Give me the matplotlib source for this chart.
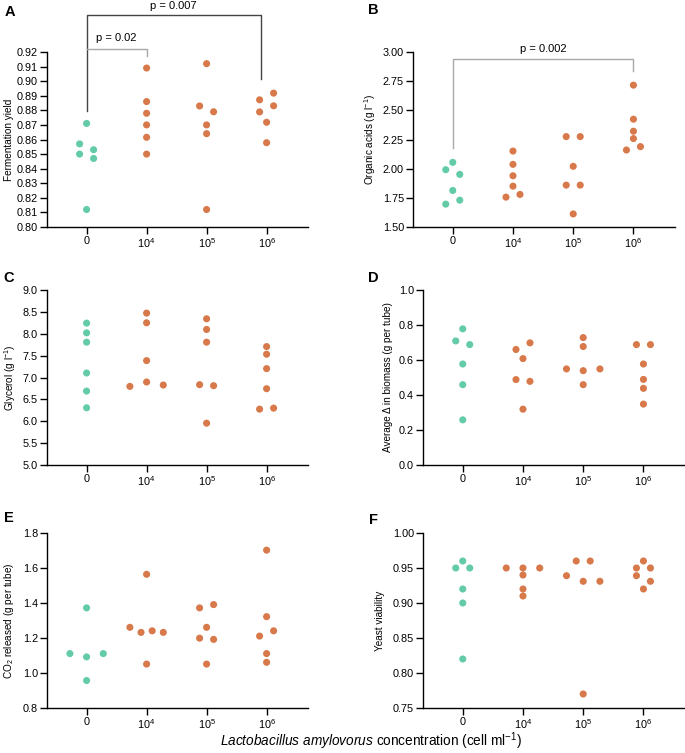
import matplotlib
matplotlib.use('Agg')
import numpy as np
import matplotlib.pyplot as plt

#Liberation Sans stands in for Arial
plt.rcParams['font.family'] = ['Liberation Sans', 'DejaVu Sans']
plt.rcParams['mathtext.fontset'] = 'custom'
plt.rcParams['mathtext.rm'] = 'Liberation Sans'
plt.rcParams['mathtext.it'] = 'Liberation Sans:italic'
plt.rcParams['mathtext.bf'] = 'Liberation Sans:bold'

#Dose groups (L. amylovorus cells per ml)
doseLabels = ['0', r'$\mathregular{10^4}$', r'$\mathregular{10^5}$', r'$\mathregular{10^6}$']

#Replicate values per dose group
#(within a row of near-equal values the list order is left to right)
fermYield = [[0.871, 0.857, 0.853, 0.850, 0.847, 0.812],
             [0.909, 0.886, 0.878, 0.870, 0.8615, 0.850],
             [0.912, 0.883, 0.879, 0.870, 0.864, 0.812],
             [0.8872, 0.8918, 0.8789, 0.8831, 0.8718, 0.8578]]
organicAcids = [[2.054, 1.991, 1.951, 1.813, 1.696, 1.730],
                [2.151, 2.037, 1.939, 1.850, 1.756, 1.779],
                [2.275, 2.275, 2.020, 1.859, 1.859, 1.612],
                [2.716, 2.424, 2.321, 2.258, 2.160, 2.189]]
glycerol = [[8.243, 8.021, 7.807, 7.103, 6.690, 6.308],
            [8.472, 8.250, 7.386, 6.797, 6.897, 6.828],
            [8.342, 8.098, 7.807, 6.836, 6.813, 5.956],
            [7.707, 7.532, 7.203, 6.744, 6.277, 6.300]]
biomass = [[0.778, 0.709, 0.688, 0.577, 0.459, 0.258],
           [0.660, 0.698, 0.608, 0.488, 0.478, 0.319],
           [0.728, 0.677, 0.549, 0.539, 0.549, 0.459],
           [0.688, 0.688, 0.577, 0.489, 0.438, 0.348]]
co2 = [[1.372, 1.111, 1.092, 1.111, 0.957],
       [1.564, 1.261, 1.232, 1.241, 1.232, 1.051],
       [1.372, 1.391, 1.261, 1.199, 1.192, 1.051],
       [1.702, 1.322, 1.211, 1.241, 1.111, 1.061]]
viability = [[0.96, 0.95, 0.95, 0.92, 0.90, 0.82],
             [0.95, 0.95, 0.95, 0.94, 0.92, 0.91],
             [0.96, 0.96, 0.939, 0.931, 0.931, 0.77],
             [0.96, 0.95, 0.95, 0.939, 0.931, 0.92]]

teal = '#63CCA7'
orange = '#D8794B'

fig = plt.figure(figsize=(6.85, 7.53), dpi=100)

#Axes rectangles in pixels (left, top, width) of a 685x753 canvas
def makeAxes(left, top, width):
    return fig.add_axes([left / 685.0, 1 - (top + 175) / 753.0, width / 685.0, 175 / 753.0])

#GraphPad style scatter: near-equal values share a row and are spread sideways
def swarm(ax, groups):
    pos = ax.get_position()
    x0, x1 = ax.get_xlim()
    y0, y1 = ax.get_ylim()
    pxPerX = pos.width * 685 / (x1 - x0)
    pxPerY = pos.height * 753 / (y1 - y0)
    for g, vals in enumerate(groups):
        order = sorted(range(len(vals)), key=lambda k: -vals[k])
        rows = []
        for k in order:
            if rows and (vals[rows[-1][0]] - vals[k]) * pxPerY < 6.9:
                rows[-1].append(k)
            else:
                rows.append([k])
        xs, ys = [], []
        for row in rows:
            row.sort()
            n = len(row)
            gap = 14.0 if n == 2 else 33.4 / max(n - 1, 1)
            for i, k in enumerate(row):
                xs.append(g + (i - (n - 1) / 2.0) * gap / pxPerX)
                ys.append(vals[k])
        ax.scatter(xs, ys, s=26, color=teal if g == 0 else orange,
                   edgecolors='none', zorder=3, clip_on=False)

def setupPanel(ax, ticks, fmt, ylabel, labelx, letter, letterxy):
    ax.set_xlim(-0.66, 3.69)
    ax.set_ylim(ticks[0], ticks[-1])
    ax.set_yticks(ticks)
    ax.set_yticklabels([fmt % t for t in ticks])
    ax.set_xticks(range(len(doseLabels)))
    ax.set_xticklabels(doseLabels)
    for s in ['top', 'right']:
        ax.spines[s].set_visible(False)
    for s in ['left', 'bottom']:
        ax.spines[s].set_linewidth(1.0)
    ax.tick_params(length=5, width=1.0, pad=1.5, labelsize=7.8, colors='black')
    ax.set_ylabel(ylabel, fontsize=7.2)
    ax.yaxis.set_label_coords(labelx, 0.5)
    fig.text(letterxy[0] / 685.0, 1 - letterxy[1] / 753.0, letter, fontsize=10.5,
             fontweight='bold', ha='center', va='center')

#A: fermentation yield
axA = makeAxes(47, 52, 261)
setupPanel(axA, np.round(np.arange(0.80, 0.9201, 0.01), 2), '%.2f', 'Fermentation yield',
           -0.126, 'A', (9.5, 11.5))
swarm(axA, fermYield)
axA.plot([0, 0, 2.9, 2.9], [0.8796, 0.9457, 0.9457, 0.9017], color='#444444', lw=1.0, clip_on=False)
axA.plot([0, 1, 1], [0.9223, 0.9223, 0.9175], color='#a8a8a8', lw=1.0, clip_on=False)
axA.text(0.5, 0.9296, 'p = 0.02', fontsize=8, ha='center', va='center')
axA.text(1.45, 0.9516, 'p = 0.007', fontsize=8, ha='center', va='center')

#B: organic acids
axB = makeAxes(413, 52, 262)
setupPanel(axB, np.arange(1.50, 3.001, 0.25), '%.2f', r'Organic acids (g l$\mathregular{^{-1}}$)',
           -0.132, 'B', (373, 10))
swarm(axB, organicAcids)
axB.plot([0, 0, 3, 3], [2.174, 2.94, 2.94, 2.84], color='#a8a8a8', lw=1.0, clip_on=False)
axB.text(1.5, 3.026, 'p = 0.002', fontsize=8, ha='center', va='center')

#C: glycerol
axC = makeAxes(47, 290, 261)
setupPanel(axC, np.arange(5.0, 9.01, 0.5), '%.1f', r'Glycerol (g l$\mathregular{^{-1}}$)',
           -0.112, 'C', (9, 278))
swarm(axC, glycerol)

#D: biomass change
axD = makeAxes(423, 290, 262)
setupPanel(axD, np.arange(0.0, 1.01, 0.2), '%.1f', 'Average \u0394 in biomass (g per tube)',
           -0.115, 'D', (373, 278))
swarm(axD, biomass)

#E: CO2 released
axE = makeAxes(47, 533, 261)
setupPanel(axE, np.arange(0.8, 1.81, 0.2), '%.1f', r'CO$\mathregular{_2}$ released (g per tube)',
           -0.12, 'E', (8.5, 518.5))
swarm(axE, co2)

#F: yeast viability
axF = makeAxes(423, 533, 262)
setupPanel(axF, np.round(np.arange(0.75, 1.001, 0.05), 2), '%.2f', 'Yeast viability',
           -0.146, 'F', (373, 520))
swarm(axF, viability)

fig.text(371 / 685.0, 1 - 741 / 753.0,
         r'$\mathit{Lactobacillus\ amylovorus}$ concentration (cell ml$\mathregular{^{-1}}$)',
         fontsize=9.8, ha='center', va='center')

fig.savefig('out.png', dpi=100)
